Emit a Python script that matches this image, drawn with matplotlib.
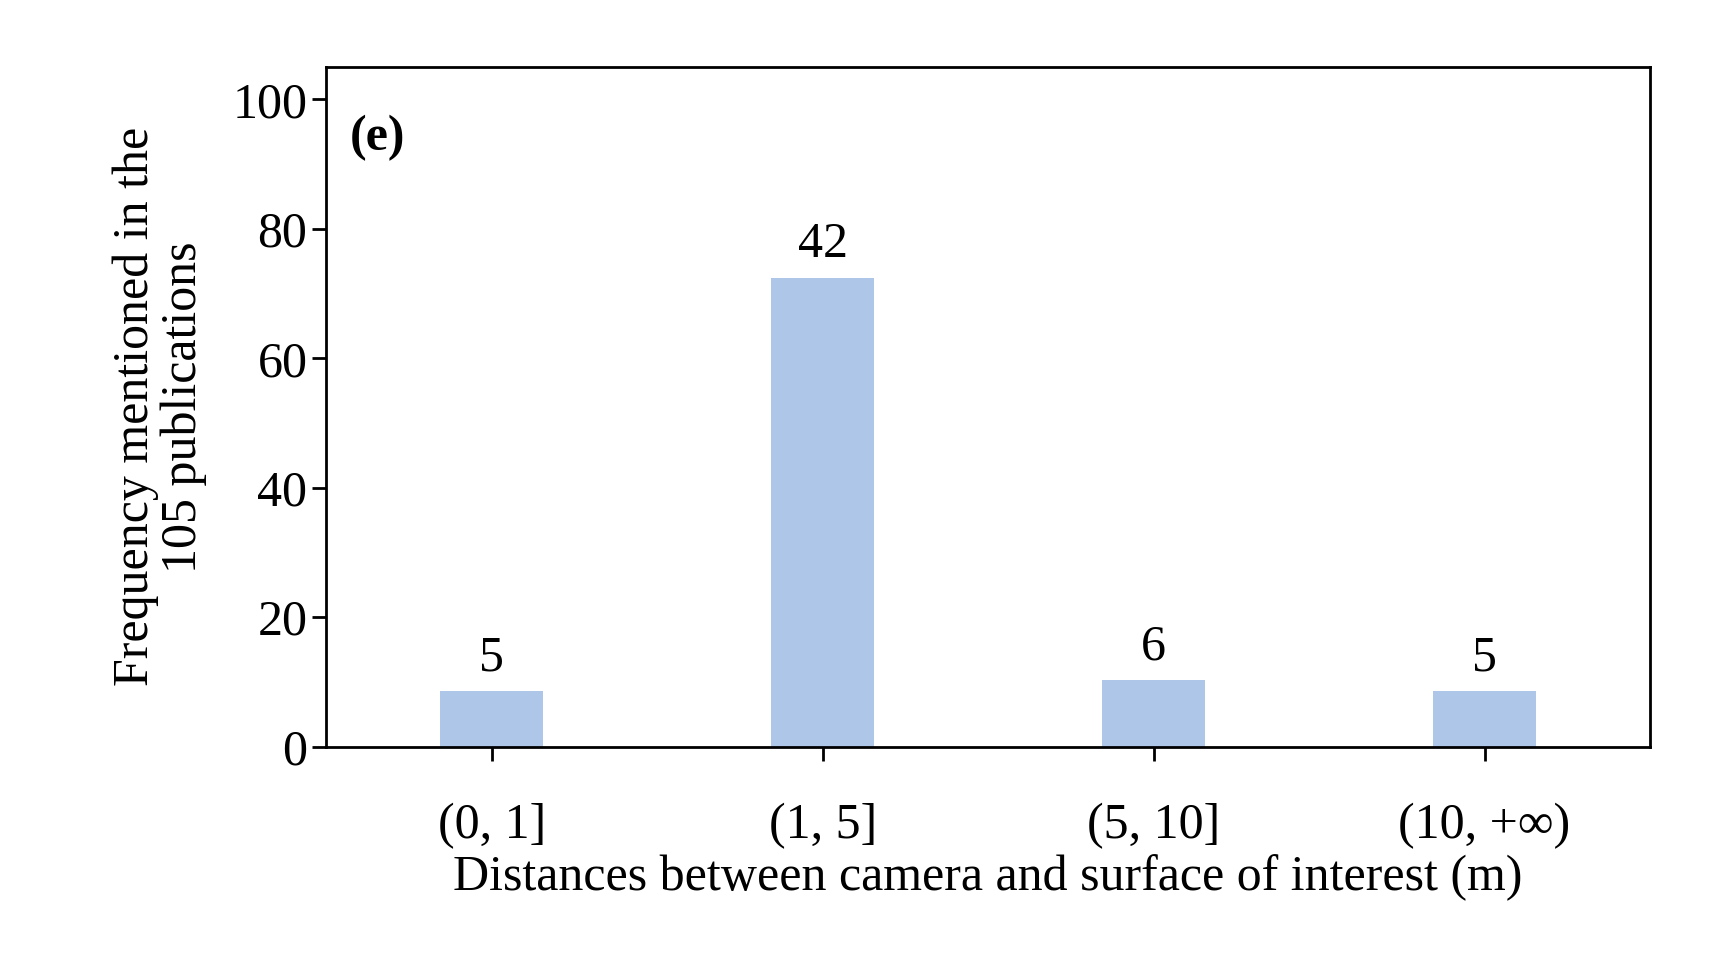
import matplotlib.pyplot as plt

# =========================
# DATA
# =========================
categories = ["(0, 1]", "(1, 5]", "(5, 10]", "(10, +\u221e)"]
counts = [5, 42, 6, 5]
bar_heights = [8.6, 72.4, 10.3, 8.6]   # percent of total, as drawn
y_ticks = [0, 20, 40, 60, 80, 100]

plt.rcParams["font.family"] = ["Liberation Serif", "DejaVu Serif"]
FS = 36

fig = plt.figure(figsize=(17.17, 9.71), dpi=100)
ax = fig.add_axes([0.190, 0.231, 0.771, 0.70])

x = range(len(categories))
bars = ax.bar(x, bar_heights, width=0.31, color="#aec7e8")
for b, c in zip(bars, counts):
    ax.text(b.get_x() + b.get_width() / 2, b.get_height() + 1.5, str(c),
            ha="center", va="bottom", fontsize=FS)

ax.set_xlim(-0.5, 3.5)
ax.set_ylim(0, 105)
ax.set_yticks(y_ticks)
ax.set_xticks(list(x))
ax.set_xticklabels(categories)
ax.tick_params(axis="both", labelsize=FS, width=2, length=10, direction="out")
ax.tick_params(axis="x", pad=30)
for s in ax.spines.values():
    s.set_linewidth(2)

ax.text(0.018, 0.93, "(e)", transform=ax.transAxes, fontsize=FS,
        fontweight="bold", va="top")
ax.set_xlabel("Distances between camera and surface of interest (m)",
              fontsize=FS, labelpad=4)
ax.set_ylabel("Frequency mentioned in the\n105 publications",
              fontsize=FS, labelpad=18, linespacing=1.05)

fig.savefig("out.png", dpi=100)
